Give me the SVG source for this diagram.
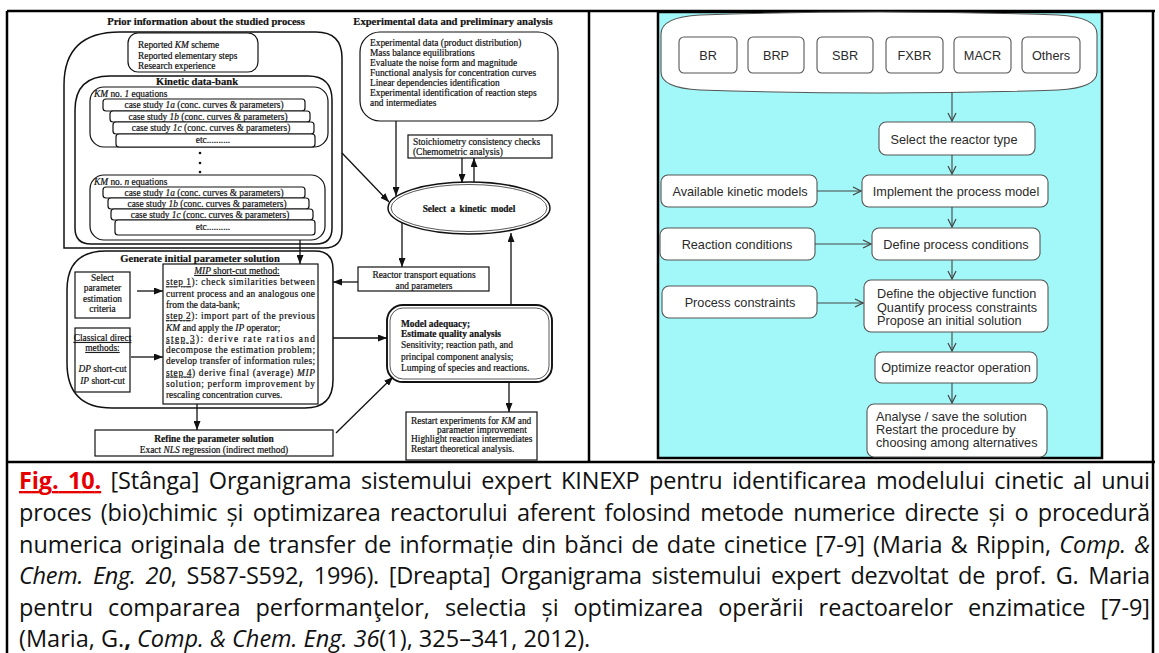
<svg xmlns="http://www.w3.org/2000/svg" width="1159" height="653" viewBox="0 0 1159 653">
<defs>
<marker id="ah" markerUnits="userSpaceOnUse" markerWidth="9" markerHeight="7" refX="9" refY="3.5" orient="auto"><path d="M0,0 L9,3.5 L0,7 Z" fill="#111"/></marker>
<marker id="ch" markerUnits="userSpaceOnUse" markerWidth="10" markerHeight="10" refX="9" refY="5" orient="auto"><path d="M1,1 L9,5 L1,9" fill="none" stroke="#444" stroke-width="1.2"/></marker>
</defs>
<style>
.t{font-family:"Liberation Serif","Times New Roman",serif;font-size:9.4px;fill:#111;stroke:#111;stroke-width:0.2}
.b{font-weight:bold}
.i{font-style:italic}
.u{text-decoration:underline}
.h{font-family:"Liberation Serif","Times New Roman",serif;font-size:10.6px;font-weight:bold;fill:#111;stroke:#111;stroke-width:0.2}
.ls{fill:#fff;stroke:#111;stroke-width:1.2}
.big{fill:none;stroke:#111;stroke-width:1.5}
.ln{stroke:#111;stroke-width:1.3;fill:none}
.rb{fill:#fff;stroke:#555;stroke-width:1.1}
.rt{font-family:"Liberation Sans",Arial,sans-serif;font-size:12.7px;fill:#2a2a2a}
.rl{stroke:#444;stroke-width:1.1;fill:none}
.cap{font-family:"Open Sans","Liberation Sans",sans-serif;font-size:23.5px;fill:#111}
.tbl{stroke:#000;stroke-width:2.5;fill:none}
</style>
<rect width="1159" height="653" fill="#fff"/>

<g id="table">
<line class="tbl" x1="7" y1="11" x2="1155" y2="11"/>
<line class="tbl" x1="7" y1="11" x2="7" y2="653"/>
<line class="tbl" x1="1153" y1="11" x2="1153" y2="653"/>
<line class="tbl" x1="589" y1="11" x2="589" y2="462"/>
<line class="tbl" x1="7" y1="462" x2="1155" y2="462"/>
</g>

<!-- LEFT PANEL -->
<g id="prior-info">
<path class="big" d="M64,248 L64,85 Q64,32 120,32 L316,32 Q342,32 342,58 L342,230 Q342,248 324,248 Z"/>
<text class="h" x="206" y="25" text-anchor="middle">Prior information about the studied process</text>
</g>
<g id="reported">
<rect class="ls" x="128" y="33" width="130" height="39" rx="10"/>
<text class="t" x="138" y="48">Reported <tspan class="i">KM</tspan> scheme</text>
<text class="t" x="138" y="59">Reported elementary steps</text>
<text class="t" x="138" y="69">Research experience</text>
</g>
<g id="data-bank">
<path class="big" d="M75,110 Q75,76 110,76 L308,76 Q332,76 332,100 L332,228 Q332,244 316,244 L91,244 Q75,244 75,228 Z"/>
<text class="h" x="197" y="85" text-anchor="middle">Kinetic data-bank</text>
</g>
<g id="km1">
<rect class="ls" x="90" y="87" width="238" height="60" rx="14"/>
<text class="t" x="94" y="97"><tspan class="i">KM</tspan> no. <tspan class="i">1</tspan> equations</text>
<rect class="ls" x="103" y="99" width="202" height="12" rx="3"/>
<text class="t" x="204" y="108" text-anchor="middle">case study <tspan class="i">1a</tspan> (conc. curves &amp; parameters)</text>
<rect class="ls" x="110" y="111" width="200" height="11" rx="3"/>
<text class="t" x="208" y="119.5" text-anchor="middle">case study <tspan class="i">1b</tspan> (conc. curves &amp; parameters)</text>
<rect class="ls" x="113" y="122" width="201" height="12" rx="3"/>
<text class="t" x="211" y="131" text-anchor="middle">case study <tspan class="i">1c</tspan> (conc. curves &amp; parameters)</text>
<rect class="ls" x="116" y="134" width="199" height="13" rx="3"/>
<text class="t" x="213" y="143" text-anchor="middle">etc..........</text>
<circle cx="200" cy="153" r="1.3" fill="#111"/>
<circle cx="200" cy="163" r="1.3" fill="#111"/>
<circle cx="200" cy="172" r="1.3" fill="#111"/>
</g>
<g id="kmn">
<rect class="ls" x="90" y="175" width="235" height="65" rx="14"/>
<text class="t" x="94" y="185"><tspan class="i">KM</tspan> no. <tspan class="i">n</tspan> equations</text>
<rect class="ls" x="103" y="187" width="202" height="11" rx="3"/>
<text class="t" x="204" y="195.5" text-anchor="middle">case study <tspan class="i">1a</tspan> (conc. curves &amp; parameters)</text>
<rect class="ls" x="108" y="198" width="201" height="11" rx="3"/>
<text class="t" x="207" y="206.5" text-anchor="middle">case study <tspan class="i">1b</tspan> (conc. curves &amp; parameters)</text>
<rect class="ls" x="111" y="209" width="202" height="11" rx="3"/>
<text class="t" x="210" y="217.5" text-anchor="middle">case study <tspan class="i">1c</tspan> (conc. curves &amp; parameters)</text>
<rect class="ls" x="115" y="220" width="200" height="15" rx="3"/>
<text class="t" x="213" y="230" text-anchor="middle">etc..........</text>
</g>
<g id="generate">
<path class="big" d="M67,290 Q67,251 106,251 L315,251 Q333,251 333,269 L333,380 Q333,408 305,408 L112,408 Q67,408 67,363 Z"/>
<text class="h" x="200" y="262" text-anchor="middle">Generate initial parameter solution</text>
</g>
<g id="select-criteria">
<rect class="ls" x="75" y="272" width="55" height="46"/>
<text class="t" x="102.5" y="281" text-anchor="middle">Select</text>
<text class="t" x="102.5" y="291" text-anchor="middle">parameter</text>
<text class="t" x="102.5" y="302" text-anchor="middle">estimation</text>
<text class="t" x="102.5" y="312" text-anchor="middle">criteria</text>
</g>
<g id="classical">
<rect class="ls" x="75" y="328" width="55" height="64"/>
<text class="t u" x="102.5" y="341" text-anchor="middle">Classical direct</text>
<text class="t u" x="102.5" y="351" text-anchor="middle">methods:</text>
<text class="t" x="102.5" y="372" text-anchor="middle"><tspan class="i">DP</tspan> short-cut</text>
<text class="t" x="102.5" y="384" text-anchor="middle"><tspan class="i">IP</tspan> short-cut</text>
</g>
<g id="mip">
<rect class="ls" x="163" y="264" width="155" height="140"/>
<text class="t u" x="237" y="274" text-anchor="middle"><tspan class="i">MIP</tspan> short-cut method:</text>
<text class="t" x="166" y="285.3" textLength="149" lengthAdjust="spacing"><tspan class="u">step 1</tspan>): check similarities between</text>
<text class="t" x="166" y="296.6" textLength="149" lengthAdjust="spacing">current process and an analogous one</text>
<text class="t" x="166" y="307.9">from the data-bank;</text>
<text class="t" x="166" y="319.2" textLength="149" lengthAdjust="spacing"><tspan class="u">step 2</tspan>): import part of the previous</text>
<text class="t" x="166" y="330.5"><tspan class="i">KM</tspan> and apply the <tspan class="i">IP</tspan> operator;</text>
<text class="t" x="166" y="341.8" textLength="149" lengthAdjust="spacing"><tspan class="u">step 3</tspan>): derive rate ratios and</text>
<text class="t" x="166" y="353.1" textLength="149" lengthAdjust="spacing">decompose the estimation problem;</text>
<text class="t" x="166" y="364.4" textLength="149" lengthAdjust="spacing">develop transfer of information rules;</text>
<text class="t" x="166" y="375.7" textLength="149" lengthAdjust="spacing"><tspan class="u">step 4</tspan>) derive final (average) <tspan class="i">MIP</tspan></text>
<text class="t" x="166" y="387" textLength="149" lengthAdjust="spacing">solution; perform improvement by</text>
<text class="t" x="166" y="398.3">rescaling concentration curves.</text>
</g>
<g id="refine">
<rect class="ls" x="95" y="430" width="238" height="26"/>
<text class="t b" x="214" y="442" text-anchor="middle">Refine the parameter solution</text>
<text class="t" x="214" y="453" text-anchor="middle">Exact <tspan class="i">NLS</tspan> regression (indirect method)</text>
</g>
<g id="experimental">
<text class="h" x="453" y="25" text-anchor="middle">Experimental data and preliminary analysis</text>
<rect class="ls" x="360" y="32" width="198" height="89" rx="20"/>
<text class="t" x="370" y="46">Experimental data (product distribution)</text>
<text class="t" x="370" y="56">Mass balance equilibrations</text>
<text class="t" x="370" y="66">Evaluate the noise form and magnitude</text>
<text class="t" x="370" y="76">Functional analysis for concentration curves</text>
<text class="t" x="370" y="86">Linear dependencies identification</text>
<text class="t" x="370" y="96">Experimental identification of reaction steps</text>
<text class="t" x="370" y="106">and intermediates</text>
</g>
<g id="stoichiometry">
<rect class="ls" x="408" y="135" width="144" height="23"/>
<text class="t" x="413" y="145">Stoichiometry consistency checks</text>
<text class="t" x="413" y="155">(Chemometric analysis)</text>
</g>
<g id="select-model">
<ellipse cx="469" cy="208" rx="81" ry="26" fill="#fff" stroke="#111" stroke-width="1.5"/>
<ellipse cx="469" cy="208" rx="78" ry="23.5" fill="none" stroke="#111" stroke-width="0.7"/>
<text class="t b" x="469" y="212" text-anchor="middle" font-size="10.2" word-spacing="2">Select a kinetic model</text>
</g>
<g id="reactor-transport">
<rect class="ls" x="358" y="267" width="131" height="24"/>
<text class="t" x="424" y="278" text-anchor="middle">Reactor transport equations</text>
<text class="t" x="424" y="289" text-anchor="middle">and parameters</text>
</g>
<g id="model-adequacy">
<rect x="387" y="305" width="165" height="77" rx="16" fill="#fff" stroke="#111" stroke-width="1.9"/>
<rect x="390" y="308" width="159" height="71" rx="13" fill="none" stroke="#111" stroke-width="0.7"/>
<text class="t b" x="401" y="327">Model adequacy;</text>
<text class="t b" x="401" y="337">Estimate quality analysis</text>
<text class="t" x="401" y="348">Sensitivity; reaction path, and</text>
<text class="t" x="401" y="360">principal component analysis;</text>
<text class="t" x="401" y="371">Lumping of species and reactions.</text>
</g>
<g id="restart">
<rect class="ls" x="406" y="412" width="131" height="48"/>
<text class="t" x="411" y="424">Restart experiments for <tspan class="i">KM</tspan> and</text>
<text class="t" x="437" y="433">parameter improvement</text>
<text class="t" x="411" y="442">Highlight reaction intermediates</text>
<text class="t" x="411" y="451.5">Restart theoretical analysis.</text>
</g>

<g id="connectors-left">
<line class="ln" x1="300" y1="240" x2="300" y2="264" marker-end="url(#ah)"/>
<line class="ln" x1="137" y1="291" x2="163" y2="291" marker-end="url(#ah)"/>
<line class="ln" x1="131" y1="357" x2="163" y2="357" marker-end="url(#ah)"/>
<line class="ln" x1="197" y1="404" x2="197" y2="430" marker-end="url(#ah)"/>
<line class="ln" x1="396" y1="121" x2="396" y2="196" marker-end="url(#ah)"/>
<line class="ln" x1="342" y1="153" x2="389" y2="202" marker-end="url(#ah)"/>
<line class="ln" x1="462" y1="158" x2="462" y2="183" marker-end="url(#ah)"/>
<line class="ln" x1="474" y1="182" x2="474" y2="158" marker-end="url(#ah)"/>
<line class="ln" x1="402" y1="223" x2="402" y2="267" marker-end="url(#ah)"/>
<line class="ln" x1="358" y1="282" x2="333" y2="282" marker-end="url(#ah)"/>
<line class="ln" x1="333" y1="338" x2="387" y2="338" marker-end="url(#ah)"/>
<line class="ln" x1="511" y1="305" x2="511" y2="233" marker-end="url(#ah)"/>
<line class="ln" x1="336" y1="433" x2="393" y2="377" marker-end="url(#ah)"/>
<line class="ln" x1="509" y1="382" x2="509" y2="412" marker-end="url(#ah)"/>
</g>

<!-- RIGHT PANEL -->
<g id="right-panel">
<rect x="658" y="12" width="444" height="446" fill="#a2f8f8" stroke="#000" stroke-width="2.5"/>
</g>
<g id="reactor-types">
<path class="rb" d="M661,34 Q661,17 700,15 Q879,9 1058,15 Q1097,17 1097,34 L1097,72 Q1097,88 1058,90 Q879,96 700,90 Q661,88 661,72 Z"/>
<rect class="rb" x="679" y="37" width="58" height="36" rx="5"/>
<text class="rt" x="708" y="59.5" text-anchor="middle">BR</text>
<rect class="rb" x="748" y="37" width="56" height="36" rx="5"/>
<text class="rt" x="776" y="59.5" text-anchor="middle">BRP</text>
<rect class="rb" x="817" y="37" width="56" height="36" rx="5"/>
<text class="rt" x="845" y="59.5" text-anchor="middle">SBR</text>
<rect class="rb" x="886" y="37" width="57" height="36" rx="5"/>
<text class="rt" x="914.5" y="59.5" text-anchor="middle">FXBR</text>
<rect class="rb" x="954" y="37" width="57" height="36" rx="5"/>
<text class="rt" x="982.5" y="59.5" text-anchor="middle">MACR</text>
<rect class="rb" x="1022" y="37" width="58" height="36" rx="5"/>
<text class="rt" x="1051" y="59.5" text-anchor="middle">Others</text>
</g>
<g id="select-reactor">
<rect class="rb" x="879" y="122" width="156" height="33" rx="7"/>
<text class="rt" x="954" y="144" text-anchor="middle">Select the reactor type</text>
</g>
<g id="available-models">
<rect class="rb" x="661" y="175" width="156" height="32" rx="7"/>
<text class="rt" x="740" y="195.5" text-anchor="middle">Available kinetic models</text>
</g>
<g id="implement">
<rect class="rb" x="862" y="175" width="186" height="32" rx="7"/>
<text class="rt" x="956" y="195.5" text-anchor="middle">Implement the process model</text>
</g>
<g id="reaction-conditions">
<rect class="rb" x="660" y="228" width="155" height="32" rx="7"/>
<text class="rt" x="737" y="248.5" text-anchor="middle">Reaction conditions</text>
</g>
<g id="define-conditions">
<rect class="rb" x="872" y="228" width="168" height="32" rx="7"/>
<text class="rt" x="956" y="248.5" text-anchor="middle">Define process conditions</text>
</g>
<g id="process-constraints">
<rect class="rb" x="662" y="286" width="155" height="32" rx="7"/>
<text class="rt" x="740" y="306.5" text-anchor="middle">Process constraints</text>
</g>
<g id="objective">
<rect class="rb" x="864" y="280" width="184" height="52" rx="7"/>
<text class="rt" x="877" y="298">Define the objective function</text>
<text class="rt" x="877" y="311.5">Quantify process constraints</text>
<text class="rt" x="877" y="325">Propose an initial solution</text>
</g>
<g id="optimize">
<rect class="rb" x="875" y="352" width="162" height="31" rx="7"/>
<text class="rt" x="956" y="372" text-anchor="middle">Optimize reactor operation</text>
</g>
<g id="analyse">
<rect class="rb" x="867" y="404" width="180" height="53" rx="7"/>
<text class="rt" x="876" y="421">Analyse / save the solution</text>
<text class="rt" x="876" y="434">Restart the procedure by</text>
<text class="rt" x="876" y="447">choosing among alternatives</text>
</g>
<g id="connectors-right">
<line class="rl" x1="952" y1="92" x2="952" y2="121" marker-end="url(#ch)"/>
<line class="rl" x1="952" y1="155" x2="952" y2="174" marker-end="url(#ch)"/>
<line class="rl" x1="817" y1="191" x2="861" y2="191" marker-end="url(#ch)"/>
<line class="rl" x1="952" y1="207" x2="952" y2="227" marker-end="url(#ch)"/>
<line class="rl" x1="815" y1="244" x2="871" y2="244" marker-end="url(#ch)"/>
<line class="rl" x1="952" y1="260" x2="952" y2="279" marker-end="url(#ch)"/>
<line class="rl" x1="817" y1="303" x2="863" y2="303" marker-end="url(#ch)"/>
<line class="rl" x1="952" y1="332" x2="952" y2="351" marker-end="url(#ch)"/>
<line class="rl" x1="952" y1="383" x2="952" y2="403" marker-end="url(#ch)"/>
</g>

<g id="caption">
<text class="cap" x="19" y="489" textLength="1131" lengthAdjust="spacing" word-spacing="3.5"><tspan fill="#e60000" font-weight="bold" text-decoration="underline">Fig. 10.</tspan> [Stânga] Organigrama sistemului expert KINEXP pentru identificarea modelului cinetic al unui</text>
<text class="cap" x="19" y="521" textLength="1131" lengthAdjust="spacing" word-spacing="3.5">proces (bio)chimic și optimizarea reactorului aferent folosind metode numerice directe și o procedură</text>
<text class="cap" x="19" y="552.5" textLength="1131" lengthAdjust="spacing" word-spacing="2">numerica originala de transfer de informație din bănci de date cinetice [7-9] (Maria &amp; Rippin, <tspan font-style="italic">Comp. &amp;</tspan></text>
<text class="cap" x="19" y="584" textLength="1131" lengthAdjust="spacing" word-spacing="4">
<tspan font-style="italic">Chem. Eng. 20</tspan>, S587-S592, 1996). [Dreapta] Organigrama sistemului expert dezvoltat de prof. G. Maria</text>
<text class="cap" x="19" y="615.5" textLength="1131" lengthAdjust="spacing" word-spacing="9">pentru compararea performanţelor, selectia și optimizarea operării reactoarelor enzimatice [7-9]</text>
<text class="cap" x="19" y="647">(Maria, G.<tspan font-weight="bold">,</tspan> <tspan font-style="italic">Comp. &amp; Chem. Eng. 36</tspan>(1), 325–341, 2012).</text>
</g>
</svg>
